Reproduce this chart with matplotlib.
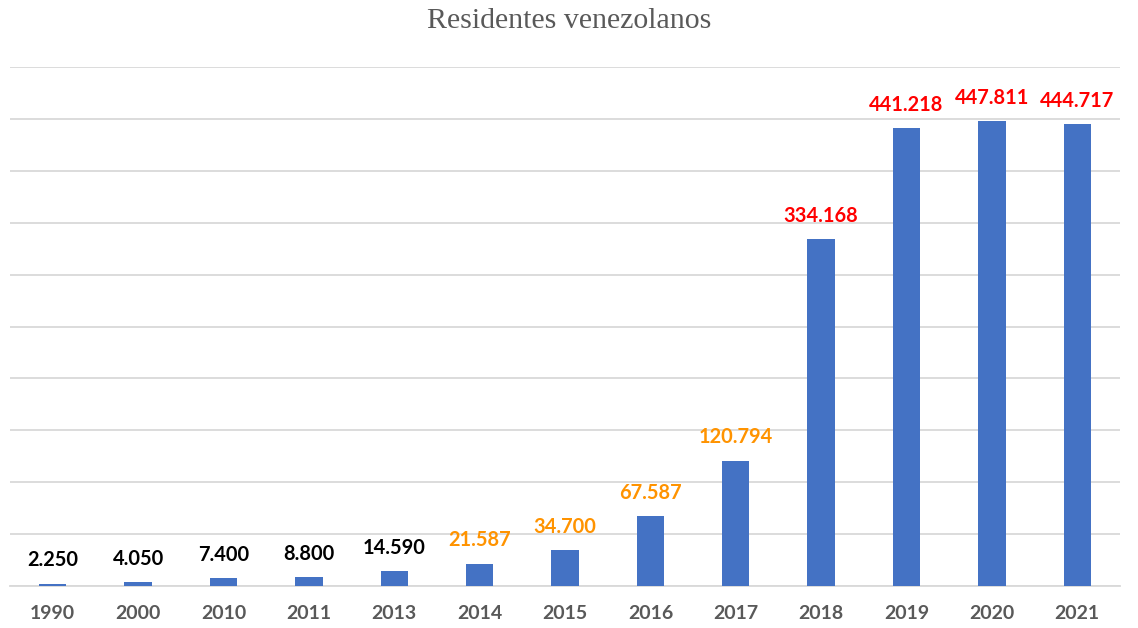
import matplotlib
matplotlib.use('Agg')
import matplotlib.pyplot as plt
import numpy as np

years = ['1990', '2000', '2010', '2011', '2013', '2014', '2015', '2016',
         '2017', '2018', '2019', '2020', '2021']
residents = [2250, 4050, 7400, 8800, 14590, 21587, 34700, 67587,
             120794, 334168, 441218, 447811, 444717]
label_colors = ['black'] * 5 + ['#FF9300'] * 4 + ['#FF0000'] * 4

fig = plt.figure(figsize=(11.38, 6.28), dpi=100)
ax = fig.add_axes([10 / 1138, 42 / 628, 1110 / 1138, 519 / 628])

x = np.arange(len(years))
bars = ax.bar(x, residents, width=0.32, color='#4472C4', zorder=3)

for xi, val, col in zip(x, residents, label_colors):
    ax.annotate(f'{val:,}'.replace(',', '.'), (xi, val), xytext=(0, 9.5),
                textcoords='offset points', ha='center', va='bottom',
                fontsize=14.4, fontweight='bold', color=col,
                family='Lato')

ax.set_xlim(-0.5, len(years) - 0.5)
ax.set_ylim(0, 500000)
ax.set_yticks(np.arange(0, 500001, 50000))
ax.yaxis.grid(True, color='#D9D9D9', linewidth=1.3, zorder=0)
ax.set_yticklabels([])
ax.tick_params(axis='y', length=0)
ax.tick_params(axis='x', length=0, pad=14)
ax.set_xticks(x)
ax.set_xticklabels(years, fontsize=14, fontweight='bold', color='#595959',
                   family='Lato')
for s in ['top', 'right', 'left']:
    ax.spines[s].set_visible(False)
ax.spines['bottom'].set_color('#D9D9D9')
ax.spines['bottom'].set_linewidth(1.3)

fig.text(0.5, 1 - 21 / 628, 'Residentes venezolanos', ha='center', va='center',
         fontsize=21.5, color='#595959', family='Liberation Serif')

plt.savefig('out.png', dpi=100)
